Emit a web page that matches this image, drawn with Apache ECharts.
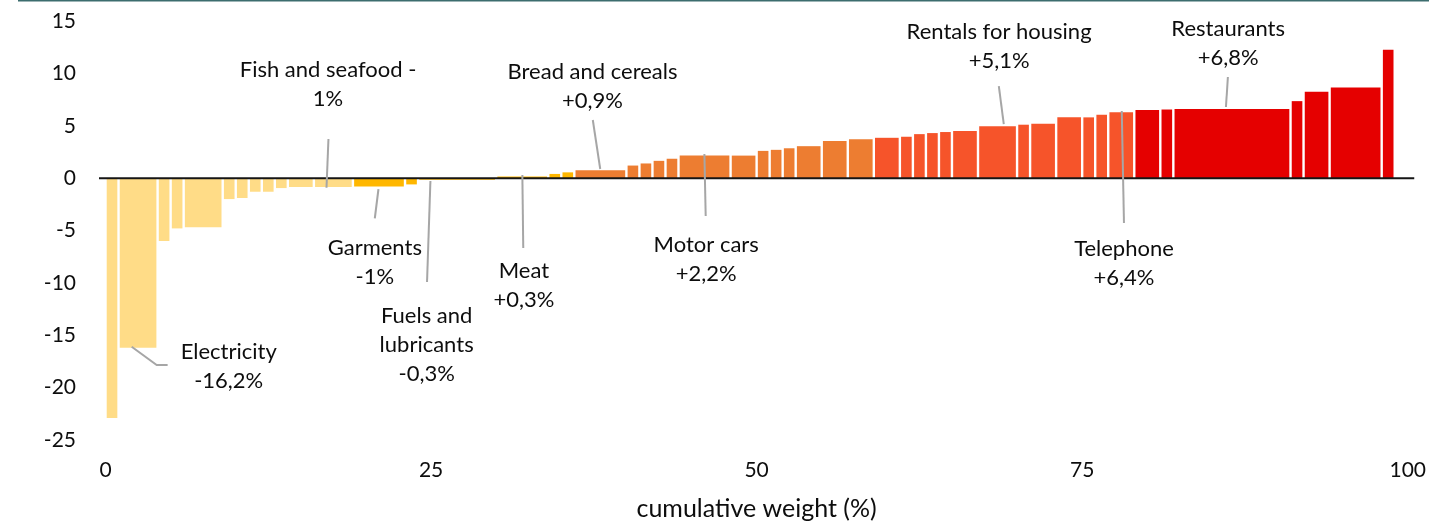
<!DOCTYPE html>
<html>
<head>
<meta charset="utf-8">
<script src="https://cdn.jsdelivr.net/npm/echarts@6/dist/echarts.min.js"></script>
<style>
html,body{margin:0;padding:0;background:#fff;}
#chart{width:1429px;height:528px;}
</style>
</head>
<body>
<div id="chart"></div>
<script>
// ---- data ----
// weight (width, % of basket) of each item, in display order
const weights = [1, 3, 1, 1, 3, 1, 1, 1, 1, 1, 2, 3,
  4, 1, 6,
  4, 1, 1,
  4, 1, 1, 1, 1, 4, 2, 1, 1, 1, 2, 2, 2,
  2, 1, 1, 1, 1, 2, 3, 1, 2, 2, 1, 1, 2,
  2, 1, 9, 1, 2, 4, 1];
// annual price change (%) of each item
const changes = [-22.9, -16.2, -6.0, -4.8, -4.7, -2.0, -1.9, -1.3, -1.3, -0.95, -0.85, -0.85,
  -0.8, -0.6, -0.15,
  0.15, 0.4, 0.55,
  0.75, 1.2, 1.4, 1.65, 1.85, 2.15, 2.15, 2.6, 2.7, 2.85, 3.05, 3.55, 3.7,
  3.85, 3.95, 4.2, 4.3, 4.4, 4.5, 4.95, 5.1, 5.2, 5.8, 5.8, 6.05, 6.3,
  6.5, 6.55, 6.6, 7.35, 8.25, 8.65, 12.25];
// colour class of each item (0 = strong fall ... 4 = strong rise)
const classes = [0,0,0,0,0,0,0,0,0,0,0,0,
  1,1,1,
  1,1,1,
  2,2,2,2,2,2,2,2,2,2,2,2,2,
  3,3,3,3,3,3,3,3,3,3,3,3,3,
  4,4,4,4,4,4,4];
const xTicks = [0, 25, 50, 75, 100];
const yTicks = [-25, -20, -15, -10, -5, 0, 5, 10, 15];
// highlighted items: label lines
const calloutTexts = [
  ['Electricity', '-16,2%'],
  ['Fish and seafood -', '1%'],
  ['Garments', '-1%'],
  ['Fuels and', 'lubricants', '-0,3%'],
  ['Meat', '+0,3%'],
  ['Bread and cereals', '+0,9%'],
  ['Motor cars', '+2,2%'],
  ['Rentals for housing', '+5,1%'],
  ['Restaurants', '+6,8%'],
  ['Telephone', '+6,4%']
];

// ---- layout (data-space placement of callouts) ----
const calloutLayout = [
  {label:[9.46,-17.96], leader:[[2.01,-16.10],[3.93,-17.84],[4.77,-17.84]]},
  {label:[17.09,8.91],  leader:[[17.12,3.73],[16.97,-0.92]]},
  {label:[20.68,-8.06], leader:[[20.96,-1.04],[20.68,-3.84]]},
  {label:[24.66,-15.93],leader:[[24.95,-0.28],[24.69,-9.92]]},
  {label:[32.13,-10.28],leader:[[32.01,0.30],[32.08,-6.67]]},
  {label:[37.40,8.73],  leader:[[37.42,5.55],[37.99,0.87]]},
  {label:[46.13,-7.80], leader:[[45.99,2.30],[46.09,-3.62]]},
  {label:[68.62,12.54], leader:[[68.60,8.79],[68.98,5.16]]},
  {label:[86.21,12.88], leader:[[86.19,9.65],[86.04,6.79]]},
  {label:[78.21,-8.13], leader:[[78.04,6.41],[78.21,-4.29]]}
];

const palette = ['#FFDC87', '#FFB700', '#ED7D31', '#F6542A', '#E50000'];
const FONT = 'Lato, "Open Sans", sans-serif';

let cum = 0;
const barData = weights.map((w, i) => {
  const s = cum; cum += w;
  return [s, cum, changes[i], classes[i]];
});

const chart = echarts.init(document.getElementById('chart'), null, {renderer: 'canvas'});

const option = {
  animation: false,
  backgroundColor: '#fff',
  grid: {left: 99, right: 14, top: 21, bottom: 88, containLabel: false},
  graphic: [{
    type: 'rect', left: 18, top: 0, shape: {width: 1411, height: 1.5},
    style: {fill: '#3C6D6E'}, silent: true
  }],
  xAxis: {
    type: 'value', min: -0.5, max: 100.5,
    splitLine: {show: false},
    axisLine: {show: false},
    axisTick: {show: false},
    axisLabel: {
      customValues: xTicks, margin: 20,
      color: '#0d0d0d', fontSize: 21, fontFamily: FONT
    },
    name: 'cumulative weight (%)', nameLocation: 'middle', nameGap: 56,
    nameTextStyle: {color: '#0d0d0d', fontSize: 25, fontFamily: FONT}
  },
  yAxis: {
    type: 'value', min: -25, max: 15, interval: 5,
    splitLine: {show: false},
    axisLine: {show: false},
    axisTick: {show: false},
    axisLabel: {
      customValues: yTicks, margin: 23,
      color: '#0d0d0d', fontSize: 21, fontFamily: FONT
    }
  },
  series: [
    {
      type: 'custom', name: 'items',
      data: barData,
      encode: {x: [0, 1], y: 2},
      renderItem: function (params, api) {
        const s = api.value(0), e = api.value(1), v = api.value(2), g = api.value(3);
        const p0 = api.coord([s, 0]);
        const p1 = api.coord([e, v]);
        const x = p0[0] + 1.2;
        const w = p1[0] - p0[0] - 2.4;
        const y = Math.min(p0[1], p1[1]);
        const h = Math.abs(p1[1] - p0[1]);
        return {type: 'rect', shape: {x: x, y: y, width: w, height: h},
          style: {fill: palette[g]}};
      },
      z: 2
    },
    {
      type: 'line', name: 'zero',
      data: [[-0.5, 0], [100.5, 0]],
      symbol: 'none', silent: true,
      lineStyle: {color: '#151515', width: 2},
      z: 5
    },
    {
      type: 'custom', name: 'callouts',
      data: calloutTexts.map((t, i) => [calloutLayout[i].label[0], calloutLayout[i].label[1], i]),
      encode: {x: 0, y: 1},
      clip: false,
      renderItem: function (params, api) {
        const i = api.value(2);
        const lay = calloutLayout[i];
        const pts = lay.leader.map(p => api.coord(p));
        const c = api.coord(lay.label);
        return {
          type: 'group',
          children: [
            {type: 'polyline', shape: {points: pts},
              style: {stroke: '#A6A6A6', lineWidth: 2, fill: null}},
            {type: 'text', x: c[0], y: c[1],
              style: {text: calloutTexts[i].join('\n'), fill: '#0d0d0d',
                fontSize: 22, fontFamily: FONT, lineHeight: 29,
                align: 'center', verticalAlign: 'middle'}}
          ]
        };
      },
      z: 6
    }
  ]
};
chart.setOption(option);
</script>
</body>
</html>
